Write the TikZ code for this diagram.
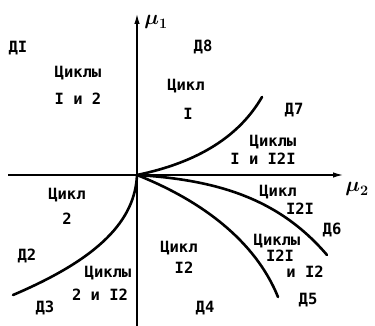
\documentclass[tikz,border=0pt]{standalone}
\usepackage{fontspec}
\usepackage{amsmath}
\setmainfont{DejaVu Sans Mono}
\usetikzlibrary{arrows.meta}
\begin{document}
\begin{tikzpicture}[x=1pt,y=-1pt,
  lbl/.style={font=\bfseries\fontsize{15.5}{17}\selectfont, inner sep=0pt},
  mulbl/.style={font=\fontsize{22}{24}\selectfont, inner sep=0pt},
  axis/.style={line width=1.3pt, -{Latex[length=10pt,width=5.5pt]}},
  bnd/.style={line width=2.6pt, line cap=round}]
\useasboundingbox (0,0) rectangle (375,326);
% axes
\coordinate (O) at (137,175);
\coordinate (ybot) at (137,326);
\coordinate (ytop) at (137,14);
\coordinate (xl) at (8,175);
\coordinate (xr) at (343,175);
\draw[axis] (ybot) -- (ytop);
\draw[axis] (xl) -- (xr);
\node[mulbl] (mu1) at (156,22) {$\boldsymbol{\mu}_{\boldsymbol{1}}$};
\node[mulbl] (mu2) at (357,189) {$\boldsymbol{\mu}_{\boldsymbol{2}}$};
% boundary curves
\coordinate (e7) at (262,97);
\coordinate (e6) at (327,255);
\coordinate (e5) at (278,297);
\coordinate (e3) at (13,295);
\draw[bnd] (O) .. controls (200,162) and (240,135) .. (e7);
\draw[bnd] (O) .. controls (220,180) and (280,200) .. (e6);
\draw[bnd] (O) .. controls (200,200) and (255,240) .. (e5);
\draw[bnd] (O) .. controls (135,220) and (100,258) .. (e3);
% region labels
\node[lbl] (d1) at (18,48) {ДI};
\node[lbl] (d2) at (27,256) {Д2};
\node[lbl] (d3) at (45,308) {Д3};
\node[lbl] (d4) at (205,308) {Д4};
\node[lbl] (d5) at (308,300) {Д5};
\node[lbl] (d6) at (332,230) {Д6};
\node[lbl] (d7) at (294,110) {Д7};
\node[lbl] (d8) at (203,47) {Д8};
% cycle labels
\node[lbl] (c12a) at (78,73) {Циклы};
\node[lbl] (c12b) at (78,99) {I и 2};
\node[lbl] (c1a) at (186,86) {Цикл};
\node[lbl] (c1b) at (188,114) {I};
\node[lbl] (c1121a) at (273,142) {Циклы};
\node[lbl] (c1121b) at (263,159) {I и I2I};
\node[lbl] (c2a) at (67,195) {Цикл};
\node[lbl] (c2b) at (67,219) {2};
\node[lbl] (c212a) at (108,273) {Циклы};
\node[lbl] (c212b) at (100,295) {2 и I2};
\node[lbl] (c12ca) at (179,248) {Цикл};
\node[lbl] (c12cb) at (184,268) {I2};
\node[lbl] (c121a) at (278,192) {Цикл};
\node[lbl] (c121b) at (300,209) {I2I};
\node[lbl] (c12112a) at (277,241) {Циклы};
\node[lbl] (c12112b) at (280,256) {I2I};
\node[lbl] (c12112c) at (305,272) {и I2};
\end{tikzpicture}
\end{document}
